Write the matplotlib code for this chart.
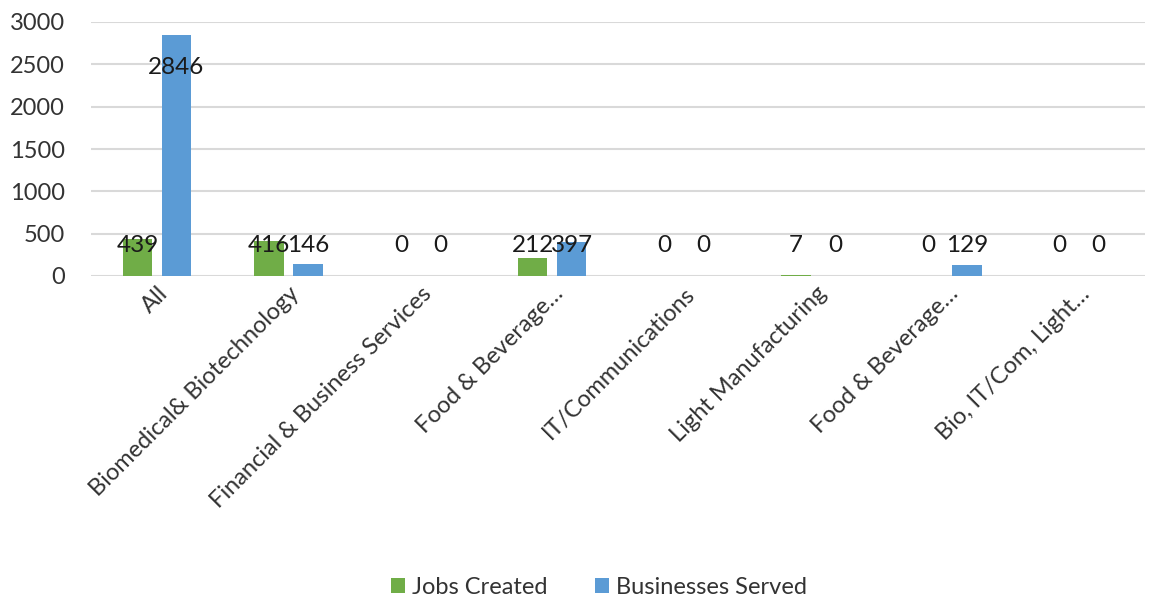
import matplotlib.pyplot as plt
import numpy as np

categories = ["All", "Biomedical& Biotechnology", "Financial & Business Services",
              "Food & Beverage…", "IT/Communications", "Light Manufacturing",
              "Food & Beverage…", "Bio, IT/Com, Light…"]
jobs_created = [439, 416, 0, 212, 0, 7, 0, 0]
businesses_served = [2846, 146, 0, 397, 0, 0, 129, 0]

green = "#70AD47"
blue = "#5B9BD5"

plt.rcParams['font.family'] = ['Lato', 'DejaVu Sans']

fig = plt.figure(figsize=(11.56, 6), dpi=100)
ax = fig.add_axes([91 / 1156, 1 - 276 / 600, 1054 / 1156, 254 / 600])

x = np.arange(len(categories))
width = 0.225
off = 0.148

ax.bar(x - off, jobs_created, width, color=green, label="Jobs Created", zorder=3)
ax.bar(x + off, businesses_served, width, color=blue, label="Businesses Served", zorder=3)

# data labels, Excel-ish placement
for xs, vals in ((x - off, jobs_created), (x + off, businesses_served)):
    for xi, v in zip(xs, vals):
        ly = max(v - 380, 366)
        ax.text(xi, ly, str(v), ha='center', va='center', fontsize=17.5,
                color='#1a1a1a', zorder=4)

ax.set_xlim(-0.5, len(categories) - 0.5)
ax.set_ylim(0, 3000)
ax.set_yticks(np.arange(0, 3001, 500))
ax.yaxis.grid(True, color='#D9D9D9', linewidth=1.5, zorder=0)
ax.tick_params(axis='y', length=0, labelsize=17, colors='#333333', pad=19)
ax.tick_params(axis='x', length=0, labelsize=17, colors='#333333', pad=5)
ax.set_xticks(x)
ax.set_xticklabels(categories, rotation=45, ha='right', rotation_mode='anchor')
for s in ax.spines.values():
    s.set_visible(False)

fig.legend(loc='center', bbox_to_anchor=(599 / 1156, 1 - 587 / 600), ncol=2, frameon=False,
           fontsize=17, handlelength=0.6, handleheight=0.6, handletextpad=0.3,
           columnspacing=2.0, labelcolor='#333333')

fig.savefig("out.png", dpi=100)
